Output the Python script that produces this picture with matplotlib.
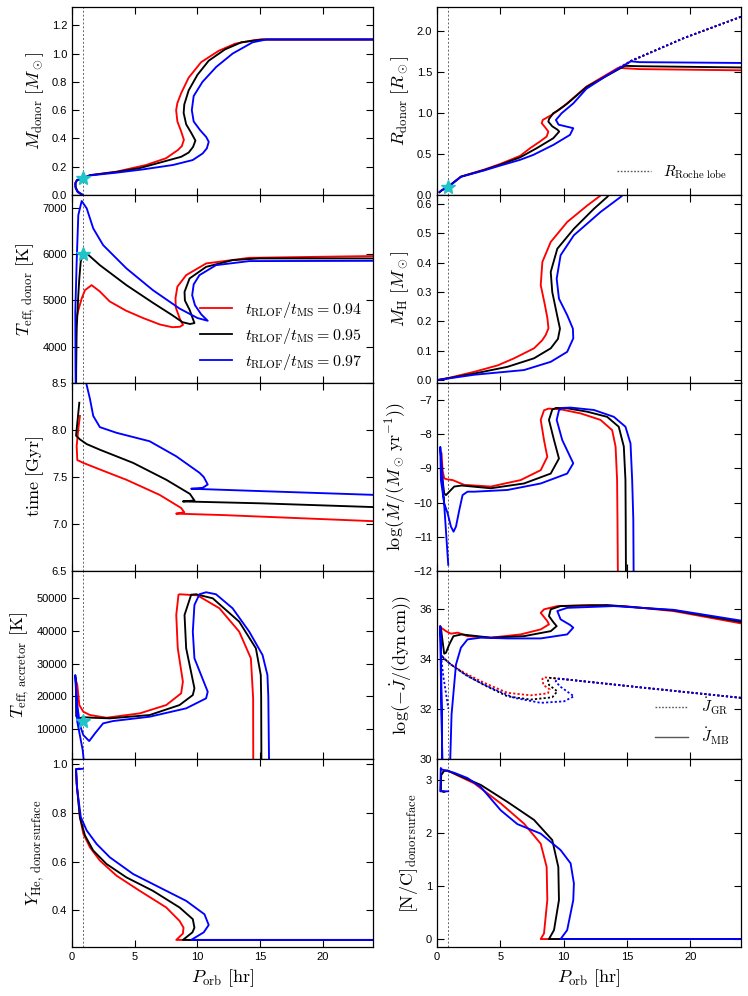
import matplotlib
matplotlib.use("Agg")
import matplotlib.pyplot as plt
from matplotlib.lines import Line2D

plt.rcParams["font.family"] = ["Liberation Sans", "DejaVu Sans"]
plt.rcParams["mathtext.fontset"] = "cm"

# ---- data: (P_orb [hr], value), one list per model ----
models = ["0.94", "0.95", "0.97"]
colors = ["red", "black", "blue"]
p_star = 0.87

mdon_094 = [(24, 1.10), (15.0, 1.10), (14.5, 1.095), (13.0, 1.07), (11.7, 1.02), (10.3, 0.94),
            (9.3, 0.83), (8.7, 0.72), (8.4, 0.65), (8.3, 0.6), (8.4, 0.52), (8.7, 0.45),
            (8.92, 0.39), (8.75, 0.345), (8.44, 0.318), (7.5, 0.26), (5.9, 0.212), (3.55, 0.165),
            (1.43, 0.14), (0.87, 0.118), (0.4, 0.106), (0.27, 0.085), (0.28, 0.06), (0.4, 0.03),
            (0.6, 0.012)]
mdon_095 = [(24, 1.10), (15.2, 1.10), (13.5, 1.08), (12.2, 1.03), (10.9, 0.95), (10.0, 0.85),
            (9.3, 0.74), (8.95, 0.64), (8.9, 0.58), (9.1, 0.5), (9.5, 0.44), (9.84, 0.385),
            (9.65, 0.34), (9.3, 0.3), (8.7, 0.27), (7.25, 0.235), (5.4, 0.19), (3.55, 0.163),
            (1.43, 0.14), (0.87, 0.118), (0.4, 0.106), (0.27, 0.085), (0.28, 0.055), (0.45, 0.025),
            (0.7, 0.008)]
mdon_097 = [(24, 1.10), (15.5, 1.10), (14.4, 1.08), (12.8, 1.0), (11.5, 0.906), (10.4, 0.8),
            (9.7, 0.7), (9.55, 0.6), (9.7, 0.52), (10.2, 0.46), (10.7, 0.41), (10.9, 0.376),
            (10.75, 0.33), (10.42, 0.294), (9.62, 0.247), (8.04, 0.212), (5.66, 0.181),
            (3.55, 0.158), (1.43, 0.138), (0.87, 0.118), (0.4, 0.105), (0.27, 0.08), (0.28, 0.05),
            (0.45, 0.02), (0.85, 0.003)]

rdon_094 = [(24, 1.525), (16, 1.54), (14.3, 1.555), (11.8, 1.326), (9.97, 1.08), (9.06, 0.98),
            (8.35, 0.918), (8.27, 0.878), (8.53, 0.829), (8.79, 0.776), (8.66, 0.715), (8.13, 0.654),
            (7.35, 0.572), (6.56, 0.478), (5.0, 0.38), (3.72, 0.31), (1.89, 0.225), (0.87, 0.10),
            (0.4, 0.06), (0.2, 0.035)]
rdon_095 = [(24, 1.56), (16, 1.575), (14.83, 1.58), (11.8, 1.32), (10.3, 1.12), (9.5, 1.03),
            (9.18, 1.0), (8.85, 0.93), (8.79, 0.898), (9.1, 0.84), (9.5, 0.8), (9.65, 0.776),
            (9.18, 0.694), (7.87, 0.572), (6.56, 0.46), (5.0, 0.37), (3.72, 0.305), (1.89, 0.224),
            (0.87, 0.10), (0.4, 0.06), (0.2, 0.035)]
rdon_097 = [(24, 1.615), (16, 1.625), (15.3, 1.635), (13.5, 1.47), (11.8, 1.30), (10.76, 1.12),
            (9.84, 1.0), (9.39, 0.918), (9.6, 0.86), (10.76, 0.817), (10.5, 0.735), (9.18, 0.612),
            (7.6, 0.49), (6.56, 0.43), (5.0, 0.36), (3.72, 0.30), (1.89, 0.222), (0.87, 0.095),
            (0.4, 0.06), (0.2, 0.035)]
rroche_094 = [(24, 2.18), (19.5, 1.92), (15.3, 1.64), (14.3, 1.555)]
rroche_095 = [(24, 2.18), (19.5, 1.92), (15.3, 1.64), (14.83, 1.58)]
rroche_097 = [(24, 2.18), (19.5, 1.92), (15.3, 1.635)]

teffd_094 = [(24, 5965), (14.13, 5926), (10.69, 5804), (9.1, 5550), (8.4, 5300), (8.25, 5050),
             (8.27, 4850), (8.6, 4600), (8.85, 4470), (8.6, 4430), (8.0, 4420), (7.0, 4480),
             (5.66, 4620), (4.3, 4780), (3.0, 4980), (2.2, 5200), (1.56, 5333), (1.03, 5224),
             (0.77, 5043), (0.5, 4789), (0.35, 4608), (0.32, 4200), (0.31, 3000)]
teffd_095 = [(24, 5913), (14.9, 5913), (12.8, 5876), (10.69, 5730), (9.37, 5478), (8.97, 5187),
             (9.0, 5000), (9.37, 4800), (9.76, 4510), (9.4, 4490), (8.8, 4530), (8.0, 4680),
             (6.45, 4950), (4.34, 5333), (2.22, 5767), (1.17, 6022), (0.85, 5985), (0.69, 5839),
             (0.58, 5478), (0.5, 5115), (0.37, 4391), (0.33, 3500), (0.32, 2800)]
teffd_097 = [(24, 5861), (14.13, 5855), (11.48, 5767), (10.16, 5550), (9.7, 5350), (9.58, 5115),
             (9.8, 4900), (10.3, 4700), (10.82, 4560), (10.0, 4620), (8.57, 4826), (6.45, 5224),
             (4.34, 5696), (2.48, 6202), (1.69, 6565), (1.17, 7000), (0.77, 7159), (0.5, 6854),
             (0.37, 5840), (0.26, 4750), (0.28, 3500), (0.3, 3000)]

mh_094 = [(0.05, 0.0), (1.0, 0.008), (2.94, 0.028), (4.8, 0.05), (6.09, 0.074), (7.66, 0.108),
          (8.3, 0.135), (8.58, 0.153), (8.8, 0.176), (8.72, 0.21), (8.5, 0.26), (8.19, 0.323),
          (8.32, 0.402), (8.98, 0.47), (10.28, 0.538), (11.86, 0.594), (12.91, 0.628), (13.5, 0.66)]
mh_095 = [(0.05, 0.0), (1.0, 0.007), (2.94, 0.022), (5.56, 0.045), (7.66, 0.074), (8.98, 0.108),
          (9.55, 0.14), (9.71, 0.175), (9.5, 0.217), (9.1, 0.3), (8.98, 0.368), (9.5, 0.447),
          (10.81, 0.515), (12.39, 0.583), (13.43, 0.623), (14.2, 0.66)]
mh_097 = [(0.05, 0.0), (1.0, 0.006), (2.94, 0.018), (6.87, 0.034), (8.98, 0.062), (10.28, 0.096),
          (10.76, 0.142), (10.73, 0.175), (10.28, 0.221), (9.63, 0.277), (9.45, 0.345),
          (9.76, 0.425), (10.81, 0.493), (12.91, 0.572), (14.49, 0.623), (15.2, 0.65)]

time_094 = [(24, 7.03), (12, 7.095), (8.3, 7.11), (8.95, 7.125), (8.7, 7.17), (6.98, 7.31),
            (4.34, 7.47), (2.22, 7.58), (0.9, 7.65), (0.42, 7.68), (0.37, 7.83), (0.5, 8.01),
            (0.63, 8.15)]
time_095 = [(24, 7.18), (15, 7.22), (8.84, 7.24), (9.76, 7.25), (9.4, 7.32), (7.52, 7.47),
            (4.87, 7.65), (2.22, 7.79), (1.17, 7.85), (0.63, 7.9), (0.32, 7.94), (0.58, 8.29)]
time_097 = [(24, 7.31), (15, 7.35), (9.5, 7.375), (10.42, 7.385), (10.82, 7.42), (10.5, 7.5),
            (10.16, 7.545), (8.31, 7.72), (6.19, 7.88), (3.55, 7.97), (2.22, 8.03), (1.69, 8.15),
            (1.43, 8.33), (1.11, 8.51), (1.0, 8.6)]

mdot_094 = [(14.3, -13), (14.25, -10.5), (14.22, -9.34), (14.1, -8.36), (13.83, -7.88),
            (12.91, -7.58), (11.34, -7.39), (9.76, -7.27), (8.8, -7.25), (8.45, -7.3),
            (8.19, -7.58), (8.45, -8.17), (8.71, -8.66), (8.19, -9.05), (6.61, -9.34),
            (4.25, -9.53), (2.15, -9.48), (1.23, -9.34), (0.8, -9.32), (0.57, -9.29),
            (0.44, -9.05), (0.36, -8.56)]
mdot_095 = [(14.93, -13), (14.9, -10.5), (14.88, -9.34), (14.75, -8.36), (14.35, -7.78),
            (13.43, -7.49), (11.86, -7.34), (10.28, -7.24), (9.4, -7.23), (9.1, -7.28),
            (8.84, -7.58), (9.24, -8.17), (9.63, -8.71), (8.98, -9.15), (6.87, -9.44),
            (4.25, -9.58), (1.95, -9.5), (1.36, -9.53), (0.71, -9.78), (0.57, -9.73),
            (0.44, -9.34), (0.31, -8.75)]
mdot_097 = [(15.54, -13), (15.5, -10.5), (15.41, -9.34), (15.28, -8.27), (14.88, -7.78),
            (13.96, -7.49), (12.39, -7.29), (10.55, -7.22), (9.9, -7.23), (9.63, -7.3),
            (9.45, -7.58), (9.89, -8.17), (10.76, -8.85), (10.28, -9.15), (8.19, -9.44),
            (5.56, -9.63), (2.94, -9.68), (2.41, -9.68), (2.02, -9.78), (1.76, -10.22),
            (1.5, -10.7), (1.31, -10.85), (1.1, -10.7), (0.84, -10.31), (0.57, -10.02),
            (0.31, -9.34), (0.26, -8.37), (0.89, -11.82)]

teffa_094 = [(14.45, 0), (14.44, 19420), (14.26, 31580), (13.33, 39670), (11.75, 46780),
             (10.0, 50700), (8.57, 51030), (8.49, 50900), (8.31, 44740), (8.43, 34620),
             (8.84, 24470), (8.70, 20930), (7.51, 17380), (5.40, 14860), (2.75, 13530),
             (1.43, 14350), (0.9, 15350), (0.58, 17380), (0.42, 23470), (0.37, 24200)]
teffa_095 = [(15.1, 0), (15.08, 20000), (15.05, 26500), (14.66, 34620), (13.33, 42700),
             (11.22, 49800), (9.89, 51030), (9.5, 50900), (8.97, 44740), (9.1, 34620),
             (9.76, 22470), (9.63, 20420), (8.57, 17380), (6.19, 14350), (3.02, 13340),
             (1.64, 13530), (0.9, 13700), (0.5, 13300), (0.33, 14000), (0.32, 25500)]
teffa_097 = [(15.71, 0), (15.65, 20000), (15.58, 26500), (15.19, 32580), (14.13, 39670),
             (12.8, 46780), (11.48, 51030), (10.69, 51640), (10.16, 51030), (9.76, 47780),
             (9.63, 39670), (9.76, 31580), (10.82, 21430), (10.69, 19420), (9.1, 16380),
             (6.19, 13840), (3.28, 12530), (2.48, 11820), (1.83, 8780), (1.37, 6440), (0.9, 8260),
             (0.63, 11300), (0.42, 17380), (0.26, 26500), (0.42, 12310), (0.85, 3700), (0.95, 0)]

jmb_094 = [(24, 35.41), (18.69, 35.9), (14.75, 36.1), (12.13, 36.14), (9.5, 36.1), (8.45, 35.97),
           (8.19, 35.83), (8.71, 35.5), (8.84, 35.37), (8.19, 35.17), (6.61, 34.97), (4.25, 34.84),
           (2.41, 34.9), (1.64, 35.04), (1.1, 35.0), (0.71, 35.1), (0.52, 35.17), (0.31, 35.24),
           (0.26, 35.3)]
jmb_095 = [(24, 35.47), (18.69, 35.93), (13.43, 36.14), (9.76, 36.1), (8.98, 35.97), (8.84, 35.7),
           (9.2, 35.45), (9.45, 35.3), (8.98, 35.1), (6.87, 34.9), (4.25, 34.84), (1.95, 34.97),
           (1.3, 34.9), (0.97, 34.57), (0.71, 34.24), (0.57, 34.2), (0.44, 34.7), (0.31, 35.24)]
jmb_097 = [(24, 35.52), (18.69, 35.95), (13.96, 36.1), (10.28, 36.03), (9.5, 35.9), (9.76, 35.57),
           (10.5, 35.35), (10.76, 35.24), (10.28, 34.97), (8.19, 34.81), (5.56, 34.81),
           (3.46, 34.84), (2.41, 34.77), (1.89, 34.44), (1.5, 33.77), (1.15, 31.77), (1.02, 29.5),
           (0.7, 28.5), (0.42, 29.5), (0.36, 32.5), (0.3, 34.6), (0.26, 35.3), (0.3, 33.5),
           (0.44, 29.5)]
jgr_094 = [(24, 32.44), (16, 32.86), (10.28, 33.17), (8.45, 33.26), (8.32, 33.2), (8.4, 32.95),
           (8.9, 32.78), (8.75, 32.62), (7.4, 32.54), (5.56, 32.64), (3.72, 33.04), (2.15, 33.44),
           (1.1, 33.77), (0.57, 34.0), (0.31, 34.15)]
jgr_095 = [(24, 32.44), (16, 32.86), (10.28, 33.17), (8.9, 33.24), (8.75, 33.17), (8.85, 32.95),
           (9.5, 32.7), (9.1, 32.46), (7.4, 32.37), (5.56, 32.5), (3.72, 32.95), (2.15, 33.4),
           (1.1, 33.77), (0.57, 34.0), (0.31, 34.15)]
jgr_097 = [(24, 32.44), (16, 32.86), (10.28, 33.17), (9.5, 33.2), (9.37, 33.1), (9.7, 32.9),
           (10.81, 32.5), (10.03, 32.3), (8.19, 32.24), (6.09, 32.44), (4.25, 32.84), (2.41, 33.3),
           (1.1, 33.77), (0.57, 34.0), (0.31, 34.15), (0.5, 33.3), (0.9, 32.0)]

yhe_094 = [(24, 0.279), (8.31, 0.279), (8.84, 0.305), (8.89, 0.329), (8.57, 0.357), (7.51, 0.412),
           (5.40, 0.48), (3.55, 0.542), (2.22, 0.604), (1.43, 0.658), (0.9, 0.714), (0.63, 0.782),
           (0.37, 0.919), (0.32, 0.978), (0.5, 0.98)]
yhe_095 = [(24, 0.279), (8.84, 0.279), (9.6, 0.31), (9.76, 0.329), (9.63, 0.364), (8.57, 0.412),
           (6.45, 0.48), (4.34, 0.535), (2.75, 0.59), (1.69, 0.645), (1.03, 0.707), (0.63, 0.78),
           (0.37, 0.92), (0.32, 0.978), (0.6, 0.98)]
yhe_097 = [(24, 0.279), (9.5, 0.279), (10.5, 0.31), (10.9, 0.34), (10.56, 0.384), (9.1, 0.439),
           (6.98, 0.494), (4.87, 0.549), (3.02, 0.617), (1.96, 0.672), (1.17, 0.727), (0.7, 0.782),
           (0.4, 0.9), (0.32, 0.978), (0.87, 0.98)]

nc_094 = [(24, 0), (8.19, 0), (8.45, 0.107), (8.71, 0.736), (8.66, 1.36), (8.19, 1.8), (6.87, 2.18),
          (5.04, 2.56), (2.94, 2.94), (1.62, 3.09), (0.85, 3.18), (0.57, 3.18), (0.33, 3.1),
          (0.3, 2.8), (0.5, 2.78)]
nc_095 = [(24, 0), (8.84, 0), (9.24, 0.17), (9.63, 0.736), (9.58, 1.36), (9.1, 1.87), (7.66, 2.25),
          (5.56, 2.59), (3.46, 2.91), (1.62, 3.1), (0.85, 3.18), (0.57, 3.18), (0.33, 3.1),
          (0.3, 2.8), (0.6, 2.78)]
nc_097 = [(24, 0), (9.76, 0), (10.28, 0.17), (10.76, 0.736), (10.81, 1.05), (10.55, 1.43),
          (9.76, 1.68), (8.19, 1.99), (6.35, 2.17), (5.04, 2.43), (3.46, 2.87), (2.41, 3.04),
          (1.36, 3.14), (0.71, 3.18), (0.4, 3.2), (0.3, 3.23), (0.26, 2.79), (0.89, 2.79)]

# cyan star markers (panel key -> value at P = p_star)
star_vals = {"mdon": 0.12, "rdon": 0.10, "teffd": 6000, "teffa": 12500}


def split(track):
    return [p for p, _ in track], [v for _, v in track]


def draw(ax, tracks, ls="-", lw=1.35):
    for track, c in zip(tracks, colors):
        p, v = split(track)
        ax.plot(p, v, color=c, ls=ls, lw=lw, solid_joinstyle="round")


fig = plt.figure(figsize=(7.48, 9.96), dpi=100)
H = 0.18876
B0 = 0.0492
axes = []
for i in range(5):
    b = B0 + (4 - i) * H
    axes.append([fig.add_axes([0.0963, b, 0.4024, H]), fig.add_axes([0.5842, b, 0.4064, H])])

for row in axes:
    for ax in row:
        ax.set_xlim(0, 24)
        ax.set_xticks([0, 5, 10, 15, 20])
        ax.axvline(p_star, color="0.4", ls=(0, (2, 2)), lw=0.7, zorder=0)
        ax.tick_params(direction="in", top=True, right=True, length=5, width=0.8,
                       labelsize=8, labelbottom=False)
        for s in ax.spines.values():
            s.set_linewidth(0.9)

star_kw = dict(marker="*", color="#1fc4c8", ms=10, zorder=10, mec="#1fc4c8")

# row 0
ax = axes[0][0]
draw(ax, [mdon_094, mdon_095, mdon_097])
ax.plot([p_star], [star_vals["mdon"]], **star_kw)
ax.set_ylim(0, 1.33)
ax.set_yticks([0.0, 0.2, 0.4, 0.6, 0.8, 1.0, 1.2])
ax.set_yticklabels(["0.0", "0.2", "0.4", "0.6", "0.8", "1.0", "1.2"])
ax.set_ylabel(r"$M_{\rm donor}\ [M_\odot]$", fontsize=13)

ax = axes[0][1]
draw(ax, [rroche_094, rroche_095, rroche_097], ls=(0, (1.2, 1.2)), lw=1.3)
draw(ax, [rdon_094, rdon_095, rdon_097])
ax.plot([p_star], [star_vals["rdon"]], **star_kw)
ax.set_ylim(0, 2.3)
ax.set_yticks([0.0, 0.5, 1.0, 1.5, 2.0])
ax.set_yticklabels(["0.0", "0.5", "1.0", "1.5", "2.0"])
ax.set_ylabel(r"$R_{\rm donor}\ [R_\odot]$", fontsize=13)
ax.legend([Line2D([], [], color="0.35", ls=(0, (1.2, 1.2)), lw=1.0)],
          [r"$R_{\rm Roche\ lobe}$"], loc="lower right", frameon=False, fontsize=11,
          handlelength=2.2, borderaxespad=0.5)

# row 1
ax = axes[1][0]
draw(ax, [teffd_094, teffd_095, teffd_097])
ax.plot([p_star], [star_vals["teffd"]], **star_kw)
ax.set_ylim(3210, 7290)
ax.set_yticks([4000, 5000, 6000, 7000])
ax.set_ylabel(r"$T_{\rm eff,\,donor}\ [{\rm K}]$", fontsize=13)
handles = [Line2D([], [], color=c, lw=1.3) for c in colors]
labels = [r"$t_{\rm RLOF}/t_{\rm MS} = %s$" % m for m in models]
ax.legend(handles, labels, loc="lower right", frameon=False, fontsize=11.5,
          handlelength=2.0, labelspacing=0.38, borderaxespad=0.3)

ax = axes[1][1]
draw(ax, [mh_094, mh_095, mh_097])
ax.set_ylim(-0.01, 0.63)
ax.set_yticks([0.0, 0.1, 0.2, 0.3, 0.4, 0.5, 0.6])
ax.set_yticklabels(["0.0", "0.1", "0.2", "0.3", "0.4", "0.5", "0.6"])
ax.set_ylabel(r"$M_{\rm H}\ [M_\odot]$", fontsize=13)

# row 2
ax = axes[2][0]
draw(ax, [time_094, time_095, time_097])
ax.set_ylim(6.5, 8.5)
ax.set_yticks([6.5, 7.0, 7.5, 8.0, 8.5])
ax.set_yticklabels(["6.5", "7.0", "7.5", "8.0", "8.5"])
ax.set_ylabel(r"${\rm time}\ [{\rm Gyr}]$", fontsize=13)

ax = axes[2][1]
draw(ax, [mdot_094, mdot_095, mdot_097])
ax.set_ylim(-12, -6.5)
ax.set_yticks([-12, -11, -10, -9, -8, -7])
ax.set_ylabel(r"$\log(\dot M/(M_\odot\,{\rm yr}^{-1}))$", fontsize=13)

# row 3
ax = axes[3][0]
draw(ax, [teffa_094, teffa_095, teffa_097])
ax.plot([p_star], [star_vals["teffa"]], **star_kw)
ax.set_ylim(1000, 58100)
ax.set_yticks([10000, 20000, 30000, 40000, 50000])
ax.set_ylabel(r"$T_{\rm eff,\,accretor}\ [{\rm K}]$", fontsize=13)

ax = axes[3][1]
draw(ax, [jgr_094, jgr_095, jgr_097], ls=(0, (1.2, 1.2)), lw=1.3)
draw(ax, [jmb_094, jmb_095, jmb_097])
ax.set_ylim(30, 37.5)
ax.set_yticks([30, 32, 34, 36])
ax.set_ylabel(r"$\log(-\dot J/({\rm dyn\,cm}))$", fontsize=13)
ax.legend([Line2D([], [], color="0.35", ls=(0, (1.2, 1.2)), lw=1.0),
           Line2D([], [], color="0.35", lw=1.0)],
          [r"$\dot J_{\rm GR}$", r"$\dot J_{\rm MB}$"], loc="lower right", frameon=False,
          fontsize=11, handlelength=2.2, labelspacing=0.55, borderaxespad=0.4)

# row 4
ax = axes[4][0]
draw(ax, [yhe_094, yhe_095, yhe_097])
ax.set_ylim(0.25, 1.02)
ax.set_yticks([0.4, 0.6, 0.8, 1.0])
ax.set_yticklabels(["0.4", "0.6", "0.8", "1.0"])
ax.set_ylabel(r"$Y_{\rm He,\,donor\,surface}$", fontsize=13)

ax = axes[4][1]
draw(ax, [nc_094, nc_095, nc_097])
ax.set_ylim(-0.15, 3.4)
ax.set_yticks([0, 1, 2, 3])
ax.set_ylabel(r"$[{\rm N/C}]_{\rm donor\,surface}$", fontsize=13)

for ax in axes[4]:
    ax.tick_params(labelbottom=True)
    ax.set_xlabel(r"$P_{\rm orb}\ [{\rm hr}]$", fontsize=13)

fig.savefig("out.png", dpi=100)
